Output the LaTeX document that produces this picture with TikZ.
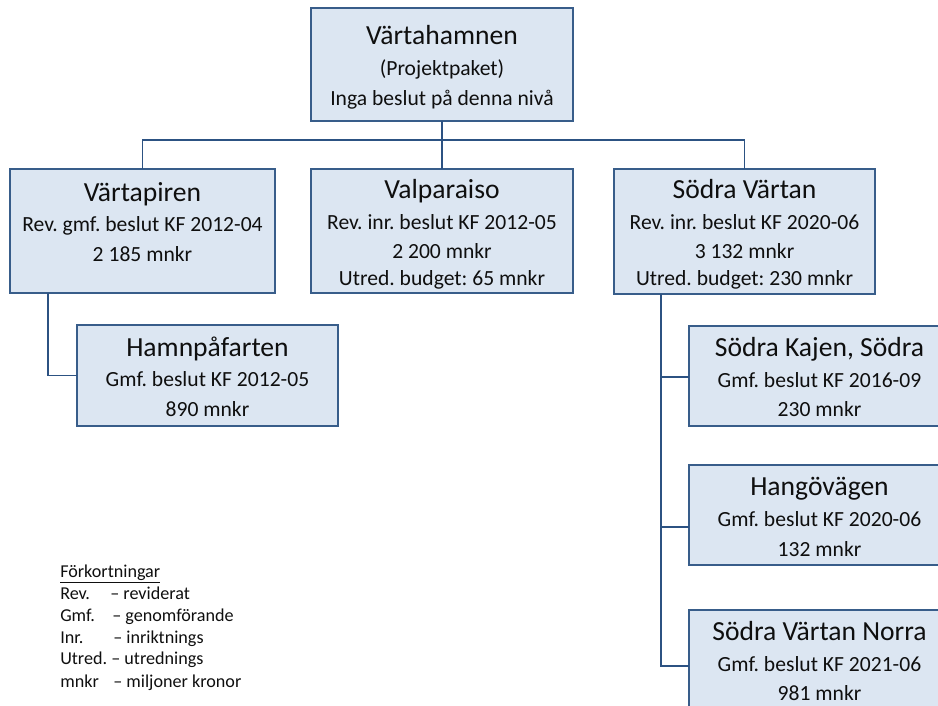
\documentclass[tikz,border=0pt]{standalone}
\usepackage{fontspec}
\setmainfont{Carlito}
\frenchspacing
\definecolor{boxfill}{RGB}{220,230,242}
\definecolor{boxline}{RGB}{56,93,138}
\definecolor{linecol}{RGB}{44,82,130}
\definecolor{txt}{RGB}{15,15,15}
\newcommand\orgbox[5]{%
  \node[box, minimum width={(#4-#2)*0.75pt}, minimum height={(#5-#3)*0.75pt}] (#1) at ({(#2+#4)/2},{(#3+#5)/2}) {};}
\begin{document}
\frenchspacing
\begin{tikzpicture}[x=0.75pt,y=-0.75pt,
  box/.style={rectangle, draw=boxline, fill=boxfill, line width=1.4pt, inner sep=0pt, outer sep=0pt},
  ttl/.style={anchor=base, inner sep=0pt, text=txt, font=\fontsize{20.7}{24}\selectfont},
  sub/.style={anchor=base, inner sep=0pt, text=txt, font=\fontsize{16.2}{19}\selectfont},
  leg/.style={anchor=base west, inner sep=0pt, text=txt, font=\fontsize{13.6}{16}\selectfont},
  conn/.style={draw=linecol, line width=1.4pt}]
\useasboundingbox (0,0) rectangle (938,706);
\clip (0,0) rectangle (938,706);
\fill[white] (0,0) rectangle (938,706);

% boxes
\orgbox{top}{311}{8}{573}{121}
\orgbox{vpir}{10}{169}{275}{293}
\orgbox{valp}{311}{169}{573}{293}
\orgbox{sv}{614}{169}{875}{294}
\orgbox{hamn}{77}{325}{338}{426}
\orgbox{kajen}{689}{326}{950}{426}
\orgbox{hango}{689}{465}{950}{565}
\orgbox{norra}{689}{610}{950}{711}

% connectors
\coordinate (bar) at (442,140);
\draw[conn] (top.south) -- (valp.north);
\draw[conn] (vpir.north) |- (bar) -| (sv.north);
\draw[conn] ([xshift=28.5pt]vpir.south west) |- (hamn.west);
\draw[conn] ([xshift=35.25pt]sv.south west) |- ([yshift=-9pt]hango.west);
\draw[conn] ([xshift=35.25pt]sv.south west) |- ([yshift=-0.75pt]kajen.west);
\draw[conn] ([xshift=35.25pt]sv.south west) |- ([yshift=-4.1pt]norra.west);

% texts
\node[ttl] (top-1) at (442,45) {Värtahamnen};
\node[sub] (top-2) at (442,76) {(Projektpaket)};
\node[sub] (top-3) at (442,106) {Inga beslut på denna nivå};

\node[ttl] (vpir-1) at (142.5,201.5) {Värtapiren};
\node[sub] (vpir-2) at (142.5,231.5) {Rev. gmf. beslut KF 2012-04};
\node[sub] (vpir-3) at (142.5,261.5) {2 185 mnkr};

\node[ttl] (valp-1) at (442,198.5) {Valparaiso};
\node[sub] (valp-2) at (442,229) {Rev. inr. beslut KF 2012-05};
\node[sub] (valp-3) at (442,258.5) {2 200 mnkr};
\node[sub] (valp-4) at (442,285) {Utred. budget: 65 mnkr};

\node[ttl] (sv-1) at (744.5,198.5) {Södra Värtan};
\node[sub] (sv-2) at (744.5,229) {Rev. inr. beslut KF 2020-06};
\node[sub] (sv-3) at (744.5,258.5) {3 132 mnkr};
\node[sub] (sv-4) at (744.5,285) {Utred. budget: 230 mnkr};

\node[ttl] (hamn-1) at (207.5,356) {Hamnpåfarten};
\node[sub] (hamn-2) at (207.5,386.5) {Gmf. beslut KF 2012-05};
\node[sub] (hamn-3) at (207.5,416) {890 mnkr};

\node[ttl] (kajen-1) at (819.5,356) {Södra Kajen, Södra};
\node[sub] (kajen-2) at (819.5,387) {Gmf. beslut KF 2016-09};
\node[sub] (kajen-3) at (819.5,416.5) {230 mnkr};

\node[ttl] (hango-1) at (819.5,495) {Hangövägen};
\node[sub] (hango-2) at (819.5,526) {Gmf. beslut KF 2020-06};
\node[sub] (hango-3) at (819.5,556) {132 mnkr};

\node[ttl] (norra-1) at (819.5,640) {Södra Värtan Norra};
\node[sub] (norra-2) at (819.5,671.5) {Gmf. beslut KF 2021-06};
\node[sub] (norra-3) at (819.5,700) {981 mnkr};

% legend
\node[leg] (leg-0) at (60,577) {\underline{Förkortningar}};
\node[leg] (leg-1) at (60,599) {\makebox[37.5pt][l]{Rev.}– reviderat};
\node[leg] (leg-2) at (60,621) {\makebox[39pt][l]{Gmf.}– genomförande};
\node[leg] (leg-3) at (60,643) {\makebox[39.75pt][l]{Inr.}– inriktnings};
\node[leg] (leg-4) at (60,664.5) {Utred. – utrednings};
\node[leg] (leg-5) at (60,687) {\makebox[39.75pt][l]{mnkr}– miljoner kronor};
\end{tikzpicture}
\end{document}
